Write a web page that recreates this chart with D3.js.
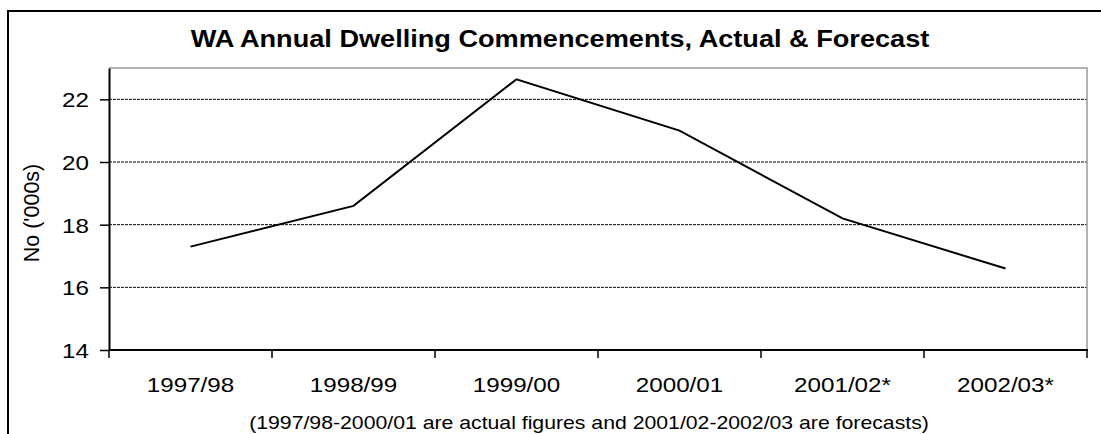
<!DOCTYPE html>
<html>
<head>
<meta charset="utf-8">
<script src="https://d3js.org/d3.v7.min.js"></script>
<style>
body { margin: 0; background: #fff; }
text { font-family: "Liberation Sans", Arial, sans-serif; fill: #000; }
</style>
</head>
<body>
<div id="chart"></div>
<script>

// data
var years = ["1997/98", "1998/99", "1999/00", "2000/01", "2001/02*", "2002/03*"];
var commencements = [17.3, 18.6, 22.64, 21.0, 18.2, 16.6];
var yTicks = [14, 16, 18, 20, 22];
var yDomain = [14, 23];

var W = 1101, H = 434;
var plot = {left: 109, top: 68, right: 1087, bottom: 350};
var sx = 1.18; // text in the original is drawn a bit wide

var svg = d3.select("#chart")
  .append("svg")
    .attr("width", W)
    .attr("height", H);

// outer frame (cut off on the right and bottom)
svg.append("rect")
  .attr("x", 8).attr("y", 11)
  .attr("width", 1200).attr("height", 600)
  .attr("fill", "none")
  .attr("stroke", "#000")
  .attr("stroke-width", 2);

var x = d3.scaleBand()
  .domain(years)
  .range([plot.left, plot.right]);

var y = d3.scaleLinear()
  .domain(yDomain)
  .range([plot.bottom, plot.top]);

// gridlines
svg.append("g")
  .selectAll("line")
  .data(yTicks.filter(function(d){ return d > yDomain[0]; }))
  .enter().append("line")
    .attr("x1", plot.left).attr("x2", plot.right)
    .attr("y1", function(d){ return y(d); })
    .attr("y2", function(d){ return y(d); })
    .attr("stroke", "#000")
    .attr("stroke-width", 1)
    .attr("stroke-dasharray", "3,1");

// top and right plot border (grey)
svg.append("path")
  .attr("d", "M" + plot.left + "," + plot.top + "H" + plot.right + "V" + plot.bottom)
  .attr("fill", "none")
  .attr("stroke", "#999")
  .attr("stroke-width", 1.5);

// y axis
var yAxis = svg.append("g")
  .attr("transform", "translate(" + plot.left + ",0)")
  .call(d3.axisLeft(y).tickValues(yTicks).tickSize(9).tickPadding(11).tickSizeOuter(0));
yAxis.select(".domain").attr("stroke", "#000").attr("stroke-width", 2);
yAxis.selectAll(".tick line").attr("stroke", "#000").attr("stroke-width", 1.5);
yAxis.selectAll(".tick text")
  .attr("font-size", "20.5px")
  .attr("font-family", "Liberation Sans, Arial, sans-serif")
  .attr("dy", "0.36em")
  .attr("transform", function(){ return "translate(" + (-20) + ",0) scale(" + sx + ",1) translate(20,0)"; });

// x axis: ticks on the band edges
var edges = years.map(function(d){ return x(d); }).concat([plot.right]);
svg.append("line")
  .attr("x1", plot.left).attr("x2", plot.right + 1)
  .attr("y1", plot.bottom).attr("y2", plot.bottom)
  .attr("stroke", "#000").attr("stroke-width", 2);
svg.append("g")
  .selectAll("line")
  .data(edges)
  .enter().append("line")
    .attr("x1", function(d){ return d; }).attr("x2", function(d){ return d; })
    .attr("y1", plot.bottom).attr("y2", plot.bottom + 8)
    .attr("stroke", "#000").attr("stroke-width", 1.5);

svg.append("g")
  .selectAll("text")
  .data(years)
  .enter().append("text")
    .attr("transform", function(d){ return "translate(" + (x(d) + x.bandwidth() / 2) + ",392) scale(" + sx + ",1)"; })
    .attr("text-anchor", "middle")
    .attr("font-size", "20.5px")
    .text(function(d){ return d; });

// the line
var line = d3.line()
  .x(function(d, i){ return x(years[i]) + x.bandwidth() / 2; })
  .y(function(d){ return y(d); });

svg.append("path")
  .datum(commencements)
  .attr("d", line)
  .attr("fill", "none")
  .attr("stroke", "#000")
  .attr("stroke-width", 2);

// title
svg.append("text")
  .attr("transform", "translate(560,47) scale(" + sx + ",1)")
  .attr("text-anchor", "middle")
  .attr("font-weight", "bold")
  .attr("font-size", "23px")
  .text("WA Annual Dwelling Commencements, Actual & Forecast");

// y axis label
svg.append("text")
  .attr("transform", "translate(39,213) rotate(-90)")
  .attr("text-anchor", "middle")
  .attr("font-size", "21.5px")
  .text("No ('000s)");

// footnote
svg.append("text")
  .attr("transform", "translate(589,429) scale(" + sx + ",1)")
  .attr("text-anchor", "middle")
  .attr("font-size", "18px")
  .text("(1997/98-2000/01 are actual figures and 2001/02-2002/03 are forecasts)");

</script>
</body>
</html>
